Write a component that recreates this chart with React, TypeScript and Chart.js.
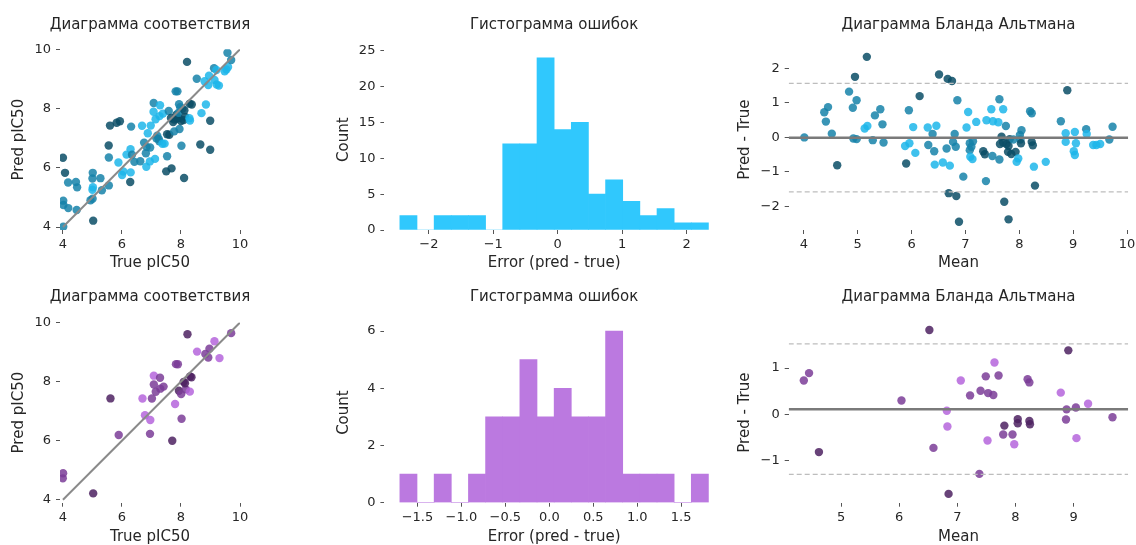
import React, { useEffect, useRef } from "react";
import { Chart, registerables } from "chart.js";

Chart.register(...registerables);

const FONT = "'DejaVu Sans', sans-serif";
const TEXT = "#262626";
const TICK = "#555555";
Chart.defaults.font.family = FONT;

// ---------------- data: first model (top row) ----------------
// Bland-Altman coordinates: mean of (true, pred) and difference (pred - true)
const topMean = [
  4.01, 5.17, 4.95, 4.84, 4.98, 4.91, 4.38, 4.45, 4.41, 4.52,
  4.62, 4.92, 4.98, 5.13, 5.18, 5.32, 5.42, 5.46, 5.28, 5.48,
  5.95, 6.15, 5.90, 5.88, 5.96, 6.03, 6.07, 6.30, 6.46, 6.39,
  6.31, 6.42, 6.43, 6.58, 6.51, 6.67, 6.75, 6.65, 6.71, 6.69,
  6.85, 7.05, 7.20, 7.02, 7.39, 7.48, 7.51, 7.61, 7.63, 7.70,
  7.75, 6.80, 6.77, 6.82, 6.96, 6.83, 6.88, 7.08, 7.11, 7.08,
  7.14, 7.09, 7.13, 7.33, 7.36, 7.50, 7.63, 7.38, 7.67, 7.64,
  7.70, 7.76, 7.80, 7.82, 7.79, 7.72, 7.80, 7.89, 7.93, 7.85,
  7.95, 7.98, 8.02, 8.01, 8.04, 8.03, 8.20, 8.23, 8.23, 8.25,
  8.27, 8.29, 8.49, 8.77, 8.86, 8.86, 8.89, 9.03, 9.05, 9.01,
  9.03, 9.24, 9.25, 9.37, 9.43, 9.50, 9.67, 9.73,
];
const topDiff = [
  0.00, 2.34, 1.76, 1.33, 1.08, 0.86, 0.73, 0.88, 0.46, 0.11,
  -0.81, -0.03, -0.05, 0.26, 0.33, 0.64, 0.82, 0.38, -0.08, -0.15,
  0.79, 1.20, -0.76, -0.25, -0.17, 0.30, -0.45, 0.29, 0.34, 0.10,
  -0.22, -0.40, -0.79, -0.73, 1.83, 1.70, 1.64, -0.32, -0.82, -1.62,
  1.08, 0.74, 0.45, 0.29, 0.50, 0.82, 0.47, 0.44, 1.11, 0.82,
  0.33, 0.10, -0.13, -0.27, -1.14, -1.70, -2.45, -0.17, -0.27, -0.37,
  -0.11, -0.56, -0.63, -0.40, -0.49, -0.54, -0.64, -1.27, 0.02, -0.19,
  -0.15, -0.19, -0.25, -0.05, -0.42, -1.87, -2.38, -0.06, -0.42, -0.48,
  -0.71, -0.61, -0.06, 0.07, 0.21, -0.17, 0.76, 0.70, -0.13, -0.23,
  -0.85, -1.40, -0.71, 0.47, 0.12, -0.13, 1.37, 0.16, -0.17, -0.40,
  -0.51, 0.24, 0.10, -0.22, -0.22, -0.19, -0.06, 0.31,
];
// hue group of each point (0 light, 1 medium, 2 dark)
const topGroup = [
  1, 2, 2, 1, 1, 1, 1, 1, 1, 1,
  2, 1, 1, 0, 0, 1, 1, 1, 1, 1,
  1, 2, 2, 0, 0, 0, 0, 0, 0, 1,
  1, 1, 0, 0, 2, 2, 2, 1, 0, 2,
  1, 0, 0, 0, 0, 0, 0, 0, 1, 0,
  1, 1, 1, 1, 1, 2, 2, 1, 1, 1,
  1, 0, 0, 2, 2, 1, 1, 1, 2, 2,
  2, 2, 2, 2, 2, 2, 2, 1, 2, 2,
  0, 0, 1, 1, 1, 2, 1, 1, 2, 2,
  0, 2, 0, 1, 0, 0, 2, 0, 0, 0,
  0, 1, 0, 0, 0, 0, 1, 1,
];

// ---------------- data: second model (bottom row) ----------------
const botMean = [
  4.36, 4.45, 4.62, 6.04, 6.52, 6.59, 6.82, 6.83, 6.85, 7.06,
  7.22, 7.40, 7.38, 7.49, 7.53, 7.62, 7.52, 7.64, 7.71, 7.81,
  7.79, 7.95, 7.98, 8.04, 8.04, 8.24, 8.25, 8.21, 8.24, 8.78,
  8.87, 8.88, 8.91, 9.04, 9.05, 9.25, 9.67,
];
const botDiff = [
  0.73, 0.89, -0.81, 0.30, 1.82, -0.72, 0.08, -0.26, -1.71, 0.73,
  0.41, 0.51, -1.28, 0.82, 0.46, 0.42, -0.56, 1.12, 0.84, -0.24,
  -0.43, -0.43, -0.64, -0.10, -0.19, -0.14, -0.21, 0.76, 0.69, 0.47,
  -0.11, 0.11, 1.38, 0.15, -0.51, 0.23, -0.06,
];
const botGroup = [
  1, 1, 2, 1, 2, 1, 0, 0, 2, 0,
  1, 1, 1, 1, 1, 1, 0, 0, 1, 2,
  1, 1, 0, 2, 2, 2, 2, 1, 1, 0,
  1, 1, 2, 1, 0, 0, 1,
];

// ---------------- histograms ----------------
const histTopCounts = [2, 0, 2, 2, 2, 0, 12, 12, 24, 14, 15, 5, 7, 4, 2, 3, 1, 1];
const histTopEdges = [-2.45, 2.34];
const histBotCounts = [1, 0, 1, 0, 1, 3, 3, 5, 3, 4, 3, 3, 6, 1, 1, 1, 0, 1];
const histBotEdges = [-1.7, 1.81];

// Bland-Altman reference lines: [mean, upper limit, lower limit]
const baTopLines = [-0.01, 1.57, -1.58];
const baBotLines = [0.11, 1.52, -1.29];

// identity line of correspondence plot
const identityLine = [4, 10];

// ---------------- tick values ----------------
const corrTicks = [4, 6, 8, 10];
const histTopXTicks = [-2, -1, 0, 1, 2];
const histTopYTicks = [0, 5, 10, 15, 20, 25];
const baTopXTicks = [4, 5, 6, 7, 8, 9, 10];
const baTopYTicks = [-2, -1, 0, 1, 2];
const histBotXTicks = [-1.5, -1, -0.5, 0, 0.5, 1, 1.5];
const histBotYTicks = [0, 2, 4, 6];
const baBotXTicks = [5, 6, 7, 8, 9];
const baBotYTicks = [-1, 0, 1];

const TITLE_CORR = "Диаграмма соответствия";
const TITLE_HIST = "Гистограмма ошибок";
const TITLE_BA = "Диаграмма Бланда Альтмана";

// ---------------- styles ----------------
const topPalette = ["rgba(29,182,234,0.85)", "rgba(22,131,169,0.85)", "rgba(11,78,102,0.85)"];
const botPalette = ["rgba(181,101,220,0.85)", "rgba(123,61,152,0.85)", "rgba(77,34,98,0.85)"];
const HIST_TOP = "#30c8fd";
const HIST_BOT = "#bb79e0";

const fmt = (v: number, d: number) => (v < 0 ? "\u2212" : "") + Math.abs(v).toFixed(d);

const tickGrid = { display: true, offset: false, drawOnChartArea: false, drawTicks: true, tickLength: 4, tickColor: TICK, tickWidth: 1 };

function xAxis(min: number, max: number, ticks: number[], dec: number, label: string, size: number, titlePad: number) {
  return {
    type: "linear",
    position: "bottom",
    min,
    max,
    bounds: "data",
    offset: false,
    afterBuildTicks: (s: any) => {
      s.ticks = ticks.map((v) => ({ value: v }));
    },
    afterFit: (s: any) => {
      s.height = size;
    },
    ticks: {
      autoSkip: false,
      maxRotation: 0,
      minRotation: 0,
      padding: 3,
      color: TEXT,
      font: { family: FONT, size: 13 },
      callback: (v: any) => fmt(Number(v), dec),
    },
    grid: tickGrid,
    border: { display: false },
    title: { display: true, text: label, color: TEXT, font: { family: FONT, size: 15 }, padding: { top: 0, bottom: titlePad } },
  };
}

function yAxis(min: number, max: number, ticks: number[], dec: number, label: string, size: number, titlePad: number) {
  return {
    type: "linear",
    position: "left",
    min,
    max,
    bounds: "data",
    afterBuildTicks: (s: any) => {
      s.ticks = ticks.map((v) => ({ value: v }));
    },
    afterFit: (s: any) => {
      s.width = size;
    },
    ticks: {
      autoSkip: false,
      padding: 5,
      color: TEXT,
      font: { family: FONT, size: 13 },
      callback: (v: any) => fmt(Number(v), dec),
    },
    grid: tickGrid,
    border: { display: false },
    title: { display: true, text: label, color: TEXT, font: { family: FONT, size: 15 }, padding: { top: titlePad, bottom: 0 } },
  };
}

// empty right-hand box so that a full-width title is centred over the plot area
function spacer(size: number) {
  return {
    type: "linear",
    position: "right",
    display: true,
    grid: { display: false, drawTicks: false },
    ticks: { display: false },
    border: { display: false },
    afterFit: (s: any) => {
      s.width = size;
    },
  };
}

function baseOptions(title: string, tPad: number[], col: any, x: any, y: any) {
  const scales: any = { x, y };
  if (col.spacer) scales.yRight = spacer(col.spacer);
  return {
    responsive: false,
    maintainAspectRatio: false,
    animation: false,
    events: [],
    layout: { padding: { left: 0, top: 0, bottom: 0, right: col.padRight } },
    plugins: {
      legend: { display: false },
      tooltip: { enabled: false },
      title: {
        display: true,
        text: title,
        color: TEXT,
        fullSize: !!col.spacer,
        font: { family: FONT, size: 15, weight: "normal" },
        padding: { top: tPad[0], bottom: tPad[1] },
      },
    },
    scales,
  };
}

// geometry (page pixels)
const ROWS = [
  { top: 0, height: 275, tPad: [16, 15.3], xSize: 45, xTitlePad: 2.5 },
  { top: 275, height: 271, tPad: [13, 16.5], xSize: 43.3, xTitlePad: 0 },
];
const COLS = [
  { left: 0, width: 300, ySize: 60, yTitlePad: 10, padRight: 0, spacer: 60 },
  { left: 330, width: 400, ySize: 54.4, yTitlePad: 5, padRight: 6.1, spacer: 0 },
  { left: 730, width: 420, ySize: 58.7, yTitlePad: 6, padRight: 21.8, spacer: 0 },
];

function corrConfig(mean: number[], diff: number[], group: number[], palette: string[], row: any, col: any) {
  const pts = mean.map((m, i) => ({ x: m - diff[i] / 2, y: m + diff[i] / 2 }));
  return {
    type: "scatter",
    data: {
      datasets: [
        {
          data: identityLine.map((v) => ({ x: v, y: v })),
          showLine: true,
          borderColor: "#8a8a8a",
          borderWidth: 2,
          pointRadius: 0,
          fill: false,
        },
        {
          data: pts,
          backgroundColor: group.map((g) => palette[g]),
          pointRadius: 4.2,
          borderWidth: 0,
        },
      ],
    },
    options: baseOptions(
      TITLE_CORR,
      row.tPad,
      col,
      xAxis(3.9, 10, corrTicks, 0, "True pIC50", row.xSize, row.xTitlePad),
      yAxis(3.9, 10, corrTicks, 0, "Pred pIC50", col.ySize, col.yTitlePad)
    ),
  };
}

function histConfig(counts: number[], edges: number[], color: string, xr: number[], yr: number[], xt: number[], xdec: number, yt: number[], row: any, col: any) {
  const w = (edges[1] - edges[0]) / counts.length;
  const data = counts.map((c, i) => ({ x: edges[0] + w * (i + 0.5), y: c }));
  return {
    type: "bar",
    data: {
      datasets: [
        {
          data,
          backgroundColor: color,
          borderWidth: 0,
          barPercentage: 1,
          categoryPercentage: 1,
          grouped: false,
        },
      ],
    },
    options: baseOptions(
      TITLE_HIST,
      row.tPad,
      col,
      xAxis(xr[0], xr[1], xt, xdec, "Error (pred - true)", row.xSize, row.xTitlePad),
      yAxis(yr[0], yr[1], yt, 0, "Count", col.ySize, col.yTitlePad)
    ),
  };
}

function baConfig(mean: number[], diff: number[], group: number[], palette: string[], lines: number[], xr: number[], yr: number[], xt: number[], yt: number[], row: any, col: any) {
  const hline = (v: number) => [{ x: xr[0], y: v }, { x: xr[1], y: v }];
  return {
    type: "scatter",
    data: {
      datasets: [
        { data: hline(lines[0]), showLine: true, borderColor: "#7a7a7a", borderWidth: 2.5, pointRadius: 0, fill: false },
        { data: hline(lines[1]), showLine: true, borderColor: "#bdbdbd", borderWidth: 1.2, borderDash: [5, 3], pointRadius: 0, fill: false },
        { data: hline(lines[2]), showLine: true, borderColor: "#bdbdbd", borderWidth: 1.2, borderDash: [5, 3], pointRadius: 0, fill: false },
        {
          data: mean.map((m, i) => ({ x: m, y: diff[i] })),
          backgroundColor: group.map((g) => palette[g]),
          pointRadius: 4.2,
          borderWidth: 0,
        },
      ],
    },
    options: baseOptions(
      TITLE_BA,
      row.tPad,
      col,
      xAxis(xr[0], xr[1], xt, 0, "Mean", row.xSize, row.xTitlePad),
      yAxis(yr[0], yr[1], yt, 0, "Pred - True", col.ySize, col.yTitlePad)
    ),
  };
}

function Panel({ row, col, config }: { row: any; col: any; config: any }) {
  const ref = useRef<HTMLCanvasElement>(null);
  useEffect(() => {
    const chart = new Chart(ref.current as HTMLCanvasElement, config);
    return () => chart.destroy();
  }, []);
  return (
    <canvas
      ref={ref}
      width={col.width}
      height={row.height}
      style={{ position: "absolute", left: col.left, top: row.top, width: col.width, height: row.height }}
    />
  );
}

export default function App() {
  const [r1, r2] = ROWS;
  const [c1, c2, c3] = COLS;
  return (
    <div style={{ position: "absolute", left: 0, top: 0, width: 1136, height: 545, overflow: "hidden", background: "#ffffff" }}>
      <Panel row={r1} col={c1} config={corrConfig(topMean, topDiff, topGroup, topPalette, r1, c1)} />
      <Panel
        row={r1}
        col={c2}
        config={histConfig(histTopCounts, histTopEdges, HIST_TOP, [-2.69, 2.58], [0, 25.2], histTopXTicks, 0, histTopYTicks, r1, c2)}
      />
      <Panel
        row={r1}
        col={c3}
        config={baConfig(topMean, topDiff, topGroup, topPalette, baTopLines, [3.72, 10.02], [-2.69, 2.56], baTopXTicks, baTopYTicks, r1, c3)}
      />
      <Panel row={r2} col={c1} config={corrConfig(botMean, botDiff, botGroup, botPalette, r2, c1)} />
      <Panel
        row={r2}
        col={c2}
        config={histConfig(histBotCounts, histBotEdges, HIST_BOT, [-1.876, 1.986], [0, 6.3], histBotXTicks, 1, histBotYTicks, r2, c2)}
      />
      <Panel
        row={r2}
        col={c3}
        config={baConfig(botMean, botDiff, botGroup, botPalette, baBotLines, [4.1, 9.94], [-1.9, 1.98], baBotXTicks, baBotYTicks, r2, c3)}
      />
    </div>
  );
}
